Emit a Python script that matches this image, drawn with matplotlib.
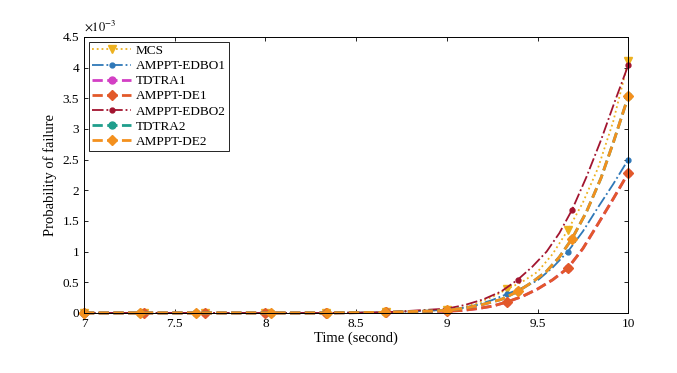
import numpy as np
import matplotlib.pyplot as plt
from matplotlib.ticker import FuncFormatter

plt.rcParams['font.family'] = ['Liberation Serif', 'DejaVu Serif']
plt.rcParams['mathtext.fontset'] = 'stix'

# time grids (second); extra points between markers follow the drawn curves
t_a = [7.0, 7.333, 7.667, 8.0, 8.333, 8.667,
       9.0, 9.083, 9.167, 9.25, 9.333, 9.417, 9.5, 9.583, 9.667, 9.75, 9.833, 9.917, 10.0]
t_b = [7.0, 7.31, 7.62, 8.03, 8.34, 8.66,
       9.0, 9.1, 9.2, 9.3, 9.39, 9.47, 9.55, 9.62, 9.69, 9.77, 9.85, 9.92, 10.0]
marks = [0, 1, 2, 3, 4, 5, 6, 10, 14, 18]

# probability of failure (x 1e-3)
flat = [0, 0, 0, 0, 0, 0.01]
mcs    = flat + [0.05, 0.08, 0.16, 0.26, 0.39, 0.51, 0.67, 0.96, 1.35, 1.80, 2.36, 3.12, 4.10]
edbo1  = flat + [0.05, 0.08, 0.13, 0.21, 0.31, 0.41, 0.53, 0.74, 1.00, 1.33, 1.72, 2.10, 2.50]
tdtra1 = flat + [0.03, 0.04, 0.07, 0.11, 0.18, 0.27, 0.39, 0.54, 0.73, 1.05, 1.45, 1.86, 2.28]
de1    = flat + [0.03, 0.04, 0.07, 0.11, 0.18, 0.27, 0.39, 0.54, 0.73, 1.05, 1.45, 1.86, 2.28]
edbo2  = flat + [0.07, 0.13, 0.22, 0.35, 0.54, 0.75, 1.00, 1.30, 1.68, 2.22, 2.82, 3.40, 4.04]
tdtra2 = flat + [0.04, 0.08, 0.14, 0.22, 0.35, 0.50, 0.68, 0.91, 1.21, 1.65, 2.20, 2.80, 3.53]
de2    = flat + [0.04, 0.08, 0.14, 0.22, 0.35, 0.50, 0.68, 0.91, 1.21, 1.65, 2.20, 2.80, 3.53]

y_ticks = [0, 0.5, 1, 1.5, 2, 2.5, 3, 3.5, 4, 4.5]
x_ticks = [7, 7.5, 8, 8.5, 9, 9.5, 10]

fig = plt.figure(figsize=(6.77, 3.73), dpi=100)
ax = fig.add_axes([0.124, 0.161, 0.804, 0.740])

def curve(t, y, **kw):
    ax.plot(t, np.array(y) * 1e-3, markevery=marks, clip_on=False, **kw)

curve(t_a, mcs, color='#EDB120', ls=':', lw=1.3, marker='v', ms=6, label='MCS')
curve(t_a, edbo1, color='#2F78B8', ls='-.', lw=1.3, marker='.', ms=7, label='AMPPT-EDBO1')
curve(t_a, tdtra1, color='#D33FC4', ls='--', lw=2.0, marker='o', ms=5, label='TDTRA1')
curve(t_a, de1, color='#E2592A', ls='--', lw=2.0, marker='D', ms=5, label='AMPPT-DE1')
curve(t_b, edbo2, color='#A2142F', ls='-.', lw=1.3, marker='.', ms=7, label='AMPPT-EDBO2')
curve(t_b, tdtra2, color='#1F9E8C', ls='--', lw=2.0, marker='o', ms=5, label='TDTRA2')
curve(t_b, de2, color='#F3901E', ls='--', lw=2.0, marker='D', ms=5, label='AMPPT-DE2')

ax.set_xlim(7, 10)
ax.set_ylim(0, 4.5e-3)
ax.set_xticks(x_ticks)
ax.xaxis.set_major_formatter(FuncFormatter(lambda v, p: '%g' % v))
ax.set_yticks(np.array(y_ticks) * 1e-3)
ax.yaxis.set_major_formatter(FuncFormatter(lambda v, p: '%g' % round(v * 1e3, 2)))
ax.text(0.0, 1.012, r'$\times 10^{-3}$', transform=ax.transAxes, fontsize=9,
        ha='left', va='bottom')
ax.tick_params(direction='in', top=True, right=True, labelsize=9.5, length=3, width=0.6)
for s in ax.spines.values():
    s.set_linewidth(0.7)

ax.set_xlabel('Time (second)', fontsize=10.5, labelpad=1)
ax.set_ylabel('Probability of failure', fontsize=10.5, labelpad=4)

leg = ax.legend(loc='upper left', fontsize=9.5, handlelength=3.0, labelspacing=0.22,
                borderpad=0.25, handletextpad=0.3, borderaxespad=0.35, fancybox=False,
                framealpha=1, edgecolor='black')
leg.get_frame().set_linewidth(0.6)

fig.savefig('out.png', dpi=100)
